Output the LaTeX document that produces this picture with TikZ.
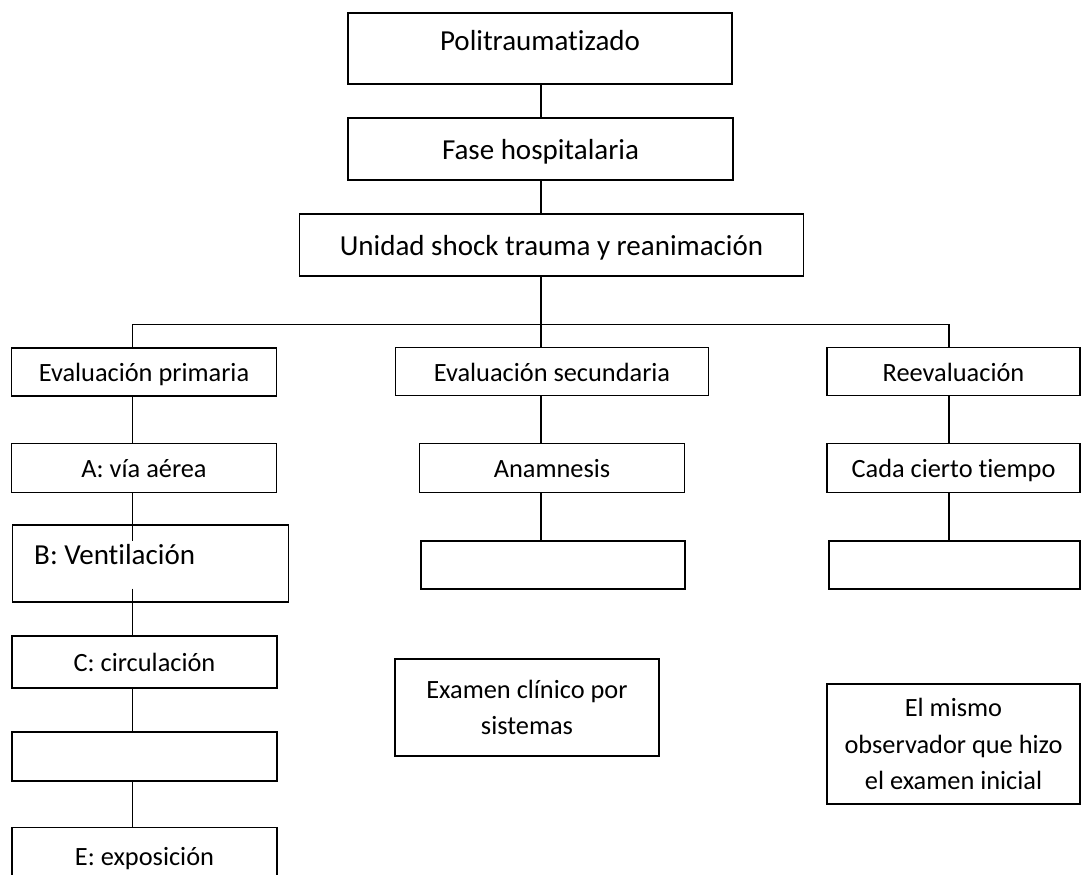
\documentclass[tikz,border=0pt]{standalone}
\usepackage{fontspec}
\setmainfont[Ligatures=NoCommon]{Carlito}
\frenchspacing
\begin{document}
\begin{tikzpicture}
                                [
                                    square/.style = {draw, shape=rectangle, line width=1pt, inner sep=0pt, text height=11pt, text depth=0pt, font=\fontsize{15}{21}\selectfont},
                                    big/.style = {square, text height=12.4pt, font=\fontsize{16.5}{20}\selectfont},
                                    multi/.style = {draw, shape=rectangle, line width=1pt, align=center, font=\fontsize{15}{20.9}\selectfont},
                                    link/.style = {line width=1pt},
                                ]

                                \useasboundingbox (0,0) rectangle (21.64,-17.48);
                                \clip (0,0) rectangle (21.64,-17.48);

                                \coordinate (colA) at (2.65,0);
                                \coordinate (colB) at (10.82,0);
                                \coordinate (colC) at (18.98,0);
                                \coordinate (bus) at (0,-6.49);

                                \node[big, minimum width=7.68cm, minimum height=1.43cm, text depth=9.7pt] (0a) at (10.80,-0.97)   {Politraumatizado};
                                \node[big, minimum width=7.70cm, minimum height=1.25cm] (1a) at (10.81,-2.98)   {Fase hospitalaria};
                                \node[big, minimum width=10.08cm, minimum height=1.23cm] (2a) at (11.03,-4.90)   {Unidad shock trauma y reanimación};

                                \node[square, minimum width=5.30cm, minimum height=0.97cm] (3a) at (2.88,-7.44)     {Evaluación primaria};
                                \node[square, minimum width=6.26cm, minimum height=0.96cm] (3b) at (11.04,-7.43)    {Evaluación secundaria};
                                \node[square, minimum width=5.06cm, minimum height=0.96cm] (3c) at (19.07,-7.43)    {Reevaluación};

                                \node[square, minimum width=5.30cm, minimum height=0.98cm] (4a) at (2.88,-9.36)     {A: vía aérea};
                                \node[square, minimum width=5.30cm, minimum height=0.98cm] (4b) at (11.04,-9.36)    {Anamnesis};
                                \node[square, minimum width=5.06cm, minimum height=0.98cm] (4c) at (19.07,-9.36)    {Cada cierto tiempo};

                                \node[big, minimum width=5.52cm, minimum height=1.55cm, text width=4.65cm, align=flush left, text depth=11.7pt] (5a) at (3.01,-11.27) {B: Ventilación};
                                \node[square, minimum width=5.29cm, minimum height=0.96cm] (5b) at (11.06,-11.30)   {};
                                \node[square, minimum width=5.03cm, minimum height=0.96cm] (5c) at (19.09,-11.30)   {};

                                \node[square, minimum width=5.31cm, minimum height=1.05cm] (6a) at (2.89,-13.24)    {C: circulación};
                                \node[multi, minimum width=5.27cm, minimum height=1.93cm] (6b) at (10.54,-14.15)    {Examen clínico por\\sistemas};
                                \node[multi, minimum width=5.06cm, minimum height=2.39cm] (6c) at (19.07,-14.88)    {El mismo\\observador que hizo\\el examen inicial};

                                \node[square, minimum width=5.31cm, minimum height=0.97cm] (7a) at (2.89,-15.13)    {};
                                \node[square, minimum width=5.31cm, minimum height=1.12cm] (8a) at (2.89,-17.11)    {E: exposición};

                                \coordinate (5ain) at (2.65,-10.82);
                                \coordinate (5aout) at (2.65,-11.77);

                                \draw [link] (0a.south -| colB) -- (1a.north -| colB);
                                \draw [link] (1a.south -| colB) -- (2a.north -| colB);
                                \draw [link] (2a.south -| colB) -- (3b.north -| colB);
                                \draw [link] (3a.north -| colA) |- (bus -| colC) -- (3c.north -| colC);

                                \draw [link] (3a.south -| colA) -- (4a.north -| colA);
                                \draw [link] (4a.south -| colA) -- (5ain);
                                \draw [link] (5aout) -- (6a.north -| colA);
                                \draw [link] (6a.south -| colA) -- (7a.north -| colA);
                                \draw [link] (7a.south -| colA) -- (8a.north -| colA);

                                \draw [link] (3b.south -| colB) -- (4b.north -| colB);
                                \draw [link] (4b.south -| colB) -- (5b.north -| colB);

                                \draw [link] (3c.south -| colC) -- (4c.north -| colC);
                                \draw [link] (4c.south -| colC) -- (5c.north -| colC);

                            \end{tikzpicture}
\end{document}
